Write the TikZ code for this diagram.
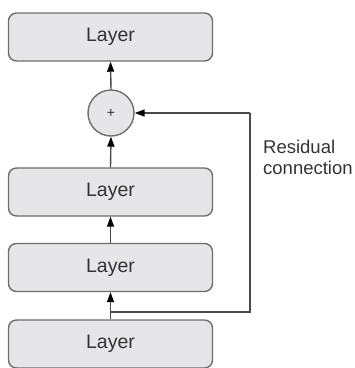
\documentclass[tikz,border=0pt]{standalone}
\usepackage{fontspec}
\setmainfont{Liberation Sans}
\usetikzlibrary{arrows.meta}
\definecolor{boxfill}{HTML}{E6E6E8}
\definecolor{boxdraw}{HTML}{6E6E6E}
\definecolor{linecol}{HTML}{4A4A4A}
\definecolor{txtcol}{HTML}{333333}
\begin{document}
\begin{tikzpicture}[x=1pt,y=-1pt,
  layerbox/.style={draw=boxdraw,fill=boxfill,line width=1.4pt,rounded corners=8pt,
    minimum width=204pt,minimum height=48pt,inner sep=0pt,text=txtcol,
    font=\fontsize{19.5}{22}\selectfont},
  addnode/.style={circle,draw=boxdraw,fill=boxfill,line width=1.4pt,minimum size=46pt,
    inner sep=0pt,text=txtcol,font=\fontsize{14}{16}\selectfont},
  conn/.style={draw=linecol,line width=1.4pt,-{Triangle[length=10pt,width=7pt,color=black]}},
  plain/.style={draw=linecol,line width=1.4pt}]
\useasboundingbox (0,0) rectangle (355,368);
\node[layerbox] (l1) at (110.5,37) {Layer};
\node[addnode] (add) at (111,113) {+};
\node[layerbox] (l2) at (110.5,192) {Layer};
\node[layerbox] (l3) at (110.5,267.5) {Layer};
\node[layerbox] (l4) at (110.5,344) {Layer};
\coordinate (split) at (110.5,312);
\coordinate (rb) at (250,312);
\coordinate (rt) at (250,113);
\node[anchor=base west,align=left,inner sep=0pt,text=txtcol,
  font=\fontsize{18.5}{21}\selectfont] (lbl) at (263,174) {Residual\\connection};
\draw[conn] (l4.north) -- (l3.south);
\draw[conn] (l3.north) -- (l2.south);
\draw[conn] (l2.north) -- (add.south);
\draw[conn] (add.north) -- (l1.south);
\draw[plain] (split) -- (rb) -- (rt);
\draw[conn] (rt) -- (add.east);
\end{tikzpicture}
\end{document}
